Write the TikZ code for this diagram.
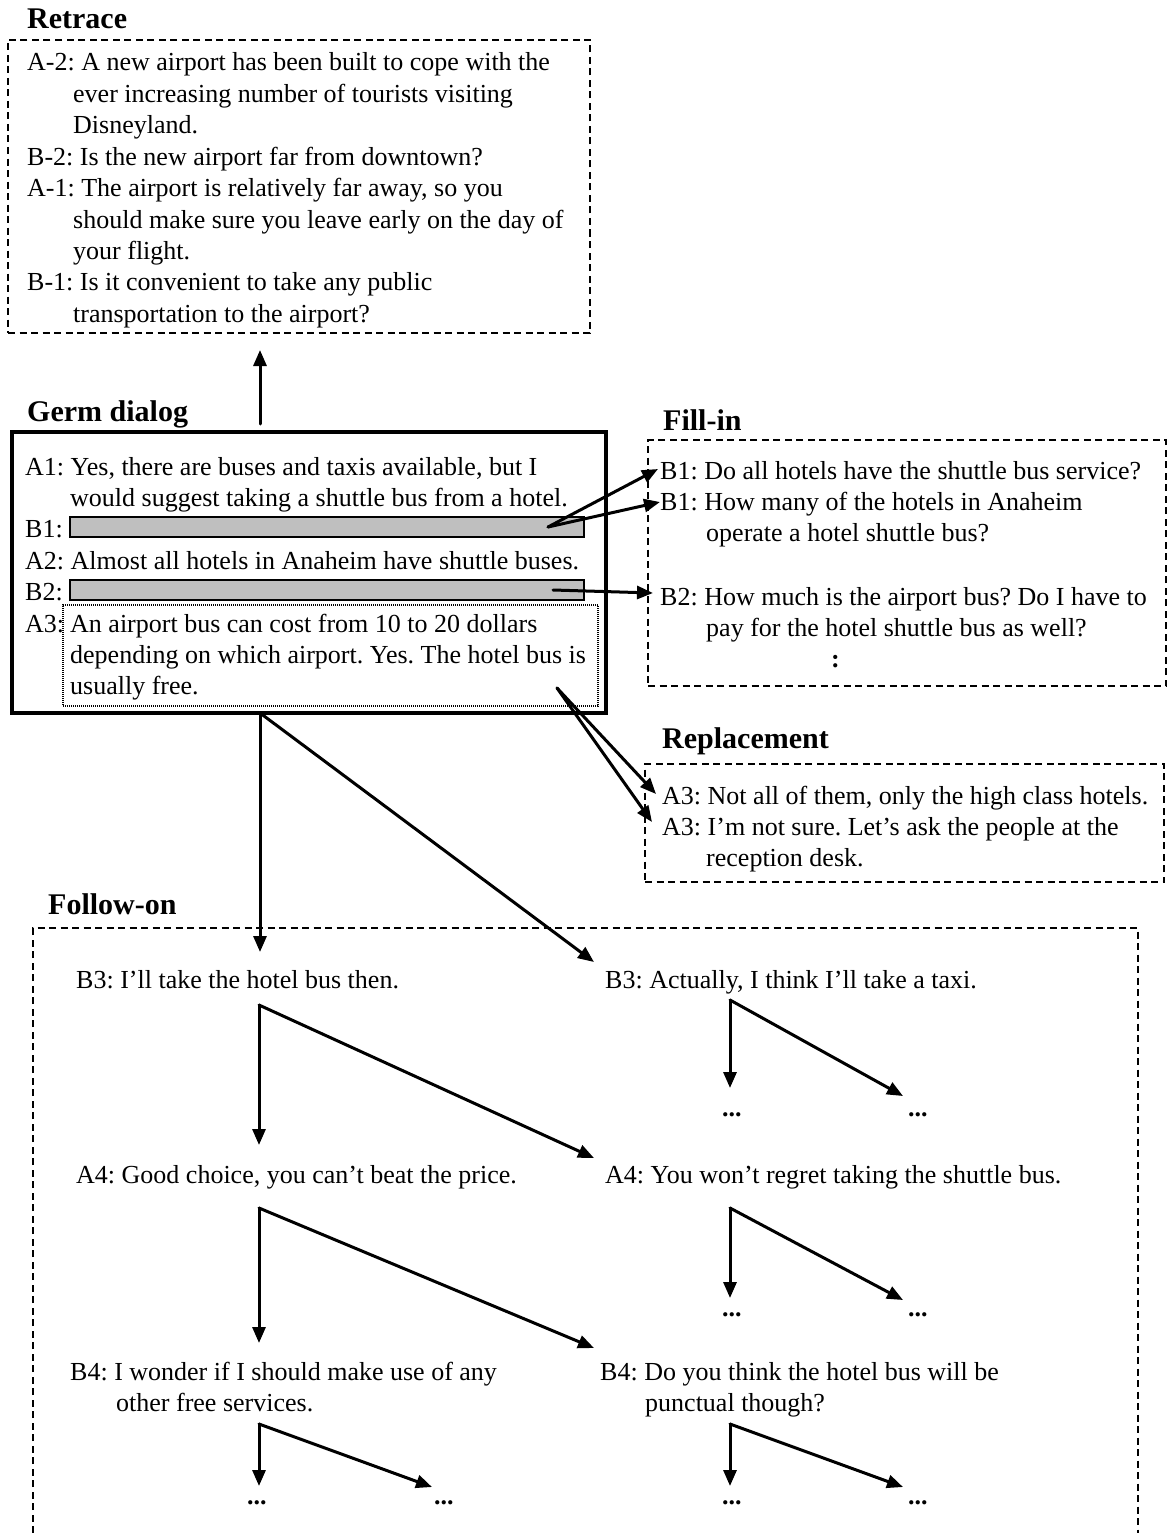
\documentclass[tikz,border=0pt]{standalone}
\usepackage{fontspec}
\setmainfont{Liberation Serif}
\usetikzlibrary{arrows.meta}
\frenchspacing
\begin{document}
\frenchspacing
\begin{tikzpicture}[x=1pt,y=-1pt,
 txt/.style={anchor=base west,inner sep=0pt,font=\fontsize{26}{31}\selectfont\frenchspacing},
 head/.style={anchor=base west,inner sep=0pt,font=\fontsize{30}{36}\selectfont\bfseries},
 dotsn/.style={anchor=base west,inner sep=0pt,font=\fontsize{26}{31}\selectfont\bfseries},
 boxn/.style={anchor=north west,inner sep=0pt,outer sep=0pt,minimum width=#1},
 dashbox/.style={draw,line width=2.2pt,dash pattern=on 7pt off 4.5pt},
 arr/.style={line width=3pt,line cap=round,-{Triangle[length=16pt,width=13pt]}},
 bar/.style={draw,line width=1.3pt,fill=black!25,anchor=north west,inner sep=0pt,outer sep=0pt,minimum width=514pt,minimum height=20pt}]
\useasboundingbox (0,0) rectangle (1168,1533);

% ---------- Retrace ----------
\node[head] (hRetrace) at (27,29) {Retrace};
\node[boxn=582pt,minimum height=293pt,dashbox] (retrace) at (8,40) {};
\node[txt] (r1) at (27,71)    {A-2: A new airport has been built to cope with the};
\node[txt] (r2) at (73,102.4) {ever increasing number of tourists visiting};
\node[txt] (r3) at (73,133.8) {Disneyland.};
\node[txt] (r4) at (27,165.2) {B-2: Is the new airport far from downtown?};
\node[txt] (r5) at (27,196.6) {A-1: The airport is relatively far away, so you};
\node[txt] (r6) at (73,228)   {should make sure you leave early on the day of};
\node[txt] (r7) at (73,259.4) {your flight.};
\node[txt] (r8) at (27,290.8) {B-1: Is it convenient to take any public};
\node[txt] (r9) at (73,322.2) {transportation to the airport?};

% ---------- Germ dialog ----------
\node[head] (hGerm) at (27,421) {Germ dialog};
\node[boxn=594pt,minimum height=281pt,draw,line width=3.8pt] (germ) at (12,432) {};
\node[bar] (bar1) at (70,517) {};
\node[bar] (bar2) at (70,580) {};
\node[boxn=535pt,minimum height=101pt,draw,line width=2.5pt,dash pattern=on 1pt off 1pt] (a3box) at (63,605) {};
\node[txt] (g1) at (25,475)   {A1: Yes, there are buses and taxis available, but I};
\node[txt] (g2) at (70,506.4) {would suggest taking a shuttle bus from a hotel.};
\node[txt] (g3) at (25,537.8) {B1:};
\node[txt] (g4) at (25,569.2) {A2: Almost all hotels in Anaheim have shuttle buses.};
\node[txt] (g5) at (25,600.6) {B2:};
\node[txt] (g6) at (25,632)   {A3:};
\node[txt] (g7) at (70,632)   {An airport bus can cost from 10 to 20 dollars};
\node[txt] (g8) at (70,663.4) {depending on which airport. Yes. The hotel bus is};
\node[txt] (g9) at (70,694.8) {usually free.};

% ---------- Fill-in ----------
\node[head] (hFill) at (663,430) {Fill-in};
\node[boxn=518pt,minimum height=246pt,dashbox] (fill) at (648,440) {};
\node[txt] (f1) at (660,479)   {B1: Do all hotels have the shuttle bus service?};
\node[txt] (f2) at (660,510.4) {B1: How many of the hotels in Anaheim};
\node[txt] (f3) at (706,541.8) {operate a hotel shuttle bus?};
\node[txt] (f4) at (660,605.5) {B2: How much is the airport bus? Do I have to};
\node[txt] (f5) at (706,636.9) {pay for the hotel shuttle bus as well?};
\node[dotsn] (f6) at (831,667) {:};

% ---------- Replacement ----------
\node[head] (hRep) at (662,748) {Replacement};
\node[boxn=519pt,minimum height=118pt,dashbox] (rep) at (645,764) {};
\node[txt] (p1) at (662,804)   {A3: Not all of them, only the high class hotels.};
\node[txt] (p2) at (662,835.4) {A3: I’m not sure. Let’s ask the people at the};
\node[txt] (p3) at (706,866.8) {reception desk.};

% ---------- Follow-on ----------
\node[head] (hFol) at (48,914) {Follow-on};
\draw[dashbox] (33,1533) -- (33,928) -- (1138,928) -- (1138,1533);
\node[txt] (b3l) at (76,988)  {B3: I’ll take the hotel bus then.};
\node[txt] (b3r) at (605,988) {B3: Actually, I think I’ll take a taxi.};
\node[txt] (a4l) at (76,1183) {A4: Good choice, you can’t beat the price.};
\node[txt] (a4r) at (605,1183){A4: You won’t regret taking the shuttle bus.};
\node[txt] (b4l) at (70,1380) {B4: I wonder if I should make use of any};
\node[txt] (b4l2) at (116,1411.4) {other free services.};
\node[txt] (b4r) at (600,1380) {B4: Do you think the hotel bus will be};
\node[txt] (b4r2) at (645,1411.4) {punctual though?};
\node[dotsn] (d1) at (722,1116) {...};
\node[dotsn] (d2) at (908,1116) {...};
\node[dotsn] (d3) at (722,1316) {...};
\node[dotsn] (d4) at (908,1316) {...};
\node[dotsn] (d5) at (247,1504) {...};
\node[dotsn] (d6) at (434,1504) {...};
\node[dotsn] (d7) at (722,1504) {...};
\node[dotsn] (d8) at (908,1504) {...};

% ---------- connector points ----------
\coordinate (gUp) at (260,424);
\coordinate (rDown) at (260,350);
\coordinate (s1) at (548,527);
\coordinate (e1) at (658,469);
\coordinate (e2) at (660,502);
\coordinate (s2) at (553,590);
\coordinate (e3) at (653,593);
\coordinate (s3) at (557,688);
\coordinate (e4) at (656,794);
\coordinate (e5) at (652,822);
\coordinate (gB) at (260,713);
\coordinate (t1) at (260,952);
\coordinate (t2) at (594,962);
\coordinate (l1) at (259,1005);
\coordinate (l1a) at (259,1145);
\coordinate (l1b) at (594,1158);
\coordinate (r1s) at (730,1000);
\coordinate (r1a) at (730,1088);
\coordinate (r1b) at (903,1096);
\coordinate (l2) at (259,1208);
\coordinate (l2a) at (259,1343);
\coordinate (l2b) at (594,1348);
\coordinate (r2s) at (730,1208);
\coordinate (r2a) at (730,1298);
\coordinate (r2b) at (903,1300);
\coordinate (l3) at (259,1424);
\coordinate (l3a) at (259,1486);
\coordinate (l3b) at (432,1487);
\coordinate (r3s) at (730,1424);
\coordinate (r3a) at (730,1486);
\coordinate (r3b) at (903,1487);

\draw[arr] (gUp) -- (rDown);
\draw[arr] (s1) -- (e1);
\draw[arr] (s1) -- (e2);
\draw[arr] (s2) -- (e3);
\draw[arr] (s3) -- (e4);
\draw[arr] (s3) -- (e5);
\draw[arr] (gB) -- (t1);
\draw[arr] (gB) -- (t2);
\draw[arr] (l1) -- (l1a);
\draw[arr] (l1) -- (l1b);
\draw[arr] (r1s) -- (r1a);
\draw[arr] (r1s) -- (r1b);
\draw[arr] (l2) -- (l2a);
\draw[arr] (l2) -- (l2b);
\draw[arr] (r2s) -- (r2a);
\draw[arr] (r2s) -- (r2b);
\draw[arr] (l3) -- (l3a);
\draw[arr] (l3) -- (l3b);
\draw[arr] (r3s) -- (r3a);
\draw[arr] (r3s) -- (r3b);
\end{tikzpicture}
\end{document}
